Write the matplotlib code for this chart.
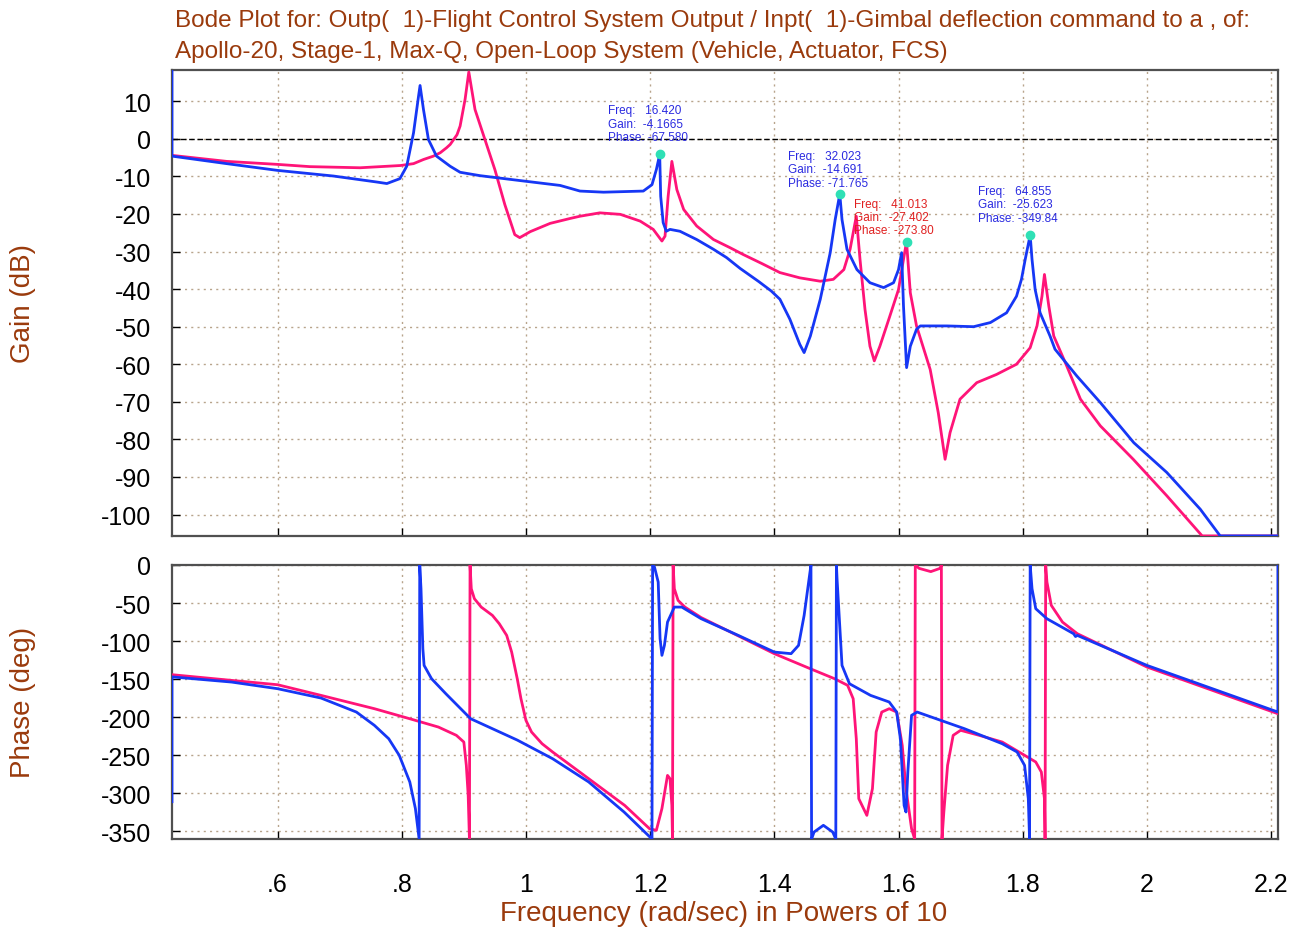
import matplotlib
matplotlib.use("Agg")
import matplotlib.pyplot as plt
import numpy as np

plt.rcParams['font.family'] = ['Liberation Sans', 'DejaVu Sans']

# ---------------- data (log10 frequency, value) ----------------
blue_gain_x = [0.43, 0.43, 0.518, 0.60, 0.69, 0.76, 0.776, 0.797, 0.808, 0.819, 0.827, 0.8295, 0.835,
               0.843, 0.856, 0.878, 0.894, 0.926, 0.99, 1.055, 1.087, 1.125, 1.189, 1.203, 1.21,
               1.2154, 1.217, 1.221, 1.226, 1.232, 1.248, 1.275, 1.302, 1.323, 1.345, 1.375, 1.395,
               1.409, 1.425, 1.441, 1.448, 1.458, 1.474, 1.49, 1.498, 1.5054, 1.509, 1.517, 1.533,
               1.554, 1.576, 1.592, 1.60, 1.605, 1.608, 1.613, 1.619, 1.629, 1.635, 1.678, 1.721,
               1.748, 1.774, 1.79, 1.798, 1.804, 1.812, 1.815, 1.82, 1.828, 1.844, 1.852, 1.887,
               1.925, 1.979, 2.032, 2.086, 2.118, 2.211]
blue_gain_y = [18.4, -4.6, -6.6, -8.4, -9.9, -11.5, -11.9, -10.6, -7.3, 1.6, 11.3, 14.2, 7.8,
               -0.2, -4.6, -7.3, -8.9, -9.8, -11.1, -12.4, -13.9, -14.2, -13.9, -12.2, -8.2,
               -4.1665, -15.3, -22.3, -24.6, -24.1, -24.6, -26.8, -29.4, -31.6, -34.5, -38.0, -40.5,
               -42.7, -48.0, -54.7, -56.9, -52.5, -42.7, -30.3, -21.5, -14.691, -21.5, -29.4, -34.8,
               -38.3, -39.6, -38.3, -34.8, -30.3, -44.5, -60.9, -55.2, -50.7, -49.8, -49.8, -50.0,
               -48.9, -46.3, -41.9, -37.4, -32.1, -25.623, -32.1, -40.1, -46.3, -52.5, -56.0, -63.1,
               -70.2, -80.9, -88.8, -98.6, -105.7, -105.7]

red_gain_x = [0.43, 0.518, 0.60, 0.652, 0.733, 0.798, 0.819, 0.835, 0.851, 0.862, 0.872, 0.878, 0.889,
              0.894, 0.902, 0.908, 0.918, 0.934, 0.95, 0.966, 0.982, 0.99, 1.007, 1.039, 1.071,
              1.087, 1.119, 1.152, 1.184, 1.205, 1.219, 1.224, 1.229, 1.235, 1.243, 1.254, 1.275,
              1.302, 1.329, 1.35, 1.38, 1.409, 1.441, 1.474, 1.495, 1.512, 1.522, 1.532, 1.538,
              1.546, 1.554, 1.561, 1.57, 1.586, 1.60, 1.608, 1.6129, 1.619, 1.629, 1.651, 1.664,
              1.675, 1.683, 1.699, 1.726, 1.758, 1.79, 1.812, 1.823, 1.831, 1.835, 1.842, 1.85,
              1.871, 1.893, 1.925, 1.978, 2.032, 2.089, 2.211]
red_gain_y = [-4.4, -6.0, -6.8, -7.4, -7.7, -7.1, -6.6, -5.5, -4.6, -3.7, -2.4, -1.5, 1.1,
              3.4, 10.5, 17.8, 7.8, -0.2, -8.2, -17.5, -25.5, -26.3, -24.7, -22.5, -21.2,
              -20.6, -19.7, -20.1, -21.9, -24.1, -27.2, -25.9, -15.3, -6.0, -13.5, -18.8, -23.2,
              -26.8, -29.0, -30.8, -33.2, -35.6, -37.0, -37.9, -37.4, -34.8, -29.4, -20.6, -32.1,
              -45.4, -55.2, -59.1, -55.2, -47.2, -40.1, -32.1, -27.402, -41.0, -49.8, -61.4, -72.9,
              -85.3, -78.2, -69.3, -64.9, -62.7, -60.0, -55.6, -49.8, -41.9, -36.1, -44.5, -52.5,
              -60.5, -69.3, -76.4, -85.3, -95.0, -105.7, -105.7]

blue_phase_x = [0.43, 0.43, 0.526, 0.60, 0.670, 0.727, 0.756, 0.779, 0.796, 0.813, 0.822, 0.828,
                0.829, 0.831, 0.834, 0.836, 0.848, 0.871, 0.911, 0.986, 1.043, 1.101, 1.158, 1.203,
                1.204, 1.207, 1.213, 1.216, 1.219, 1.223, 1.228, 1.239, 1.251, 1.282, 1.342, 1.40,
                1.427, 1.439, 1.448, 1.456, 1.459, 1.460, 1.464, 1.479, 1.494, 1.499, 1.500, 1.501,
                1.505, 1.509, 1.521, 1.555, 1.585, 1.597, 1.603, 1.609, 1.612, 1.615, 1.621, 1.63,
                1.645, 1.706, 1.767, 1.791, 1.803, 1.809, 1.811, 1.812, 1.815, 1.821, 1.839, 1.882,
                1.885, 1.888, 2.0, 2.211, 2.211]
blue_phase_y = [-311, -147, -153.8, -162.5, -174.8, -193.2, -210.7, -228.2, -250.1, -285.1, -320, -360,
                0, -31.2, -110, -131.9, -149.4, -169.1, -202, -230, -254.5, -285, -324.5, -360,
                0, -2.7, -22.4, -96.8, -118.7, -105.6, -75, -55.3, -55.3, -70.5, -92.5, -114.4,
                -116.5, -105.6, -66.2, -18, 0, -360, -350.8, -342, -350.8, -360, 0, -18,
                -75, -131.9, -156, -171.3, -180, -193.2, -228.2, -315.8, -324.5, -272, -197.5, -193.2,
                -197.5, -215, -234.8, -245.7, -263.2, -307, -360, 0, -31.2, -57.4, -70.6, -90.3,
                -94, -92.5, -131.9, -193.2, 0]

red_phase_x = [0.43, 0.526, 0.60, 0.670, 0.756, 0.813, 0.859, 0.888, 0.900, 0.904, 0.907, 0.909,
               0.910, 0.912, 0.917, 0.928, 0.946, 0.957, 0.969, 0.977, 0.986, 0.992, 1.0, 1.009,
               1.026, 1.043, 1.101, 1.159, 1.199, 1.21, 1.219, 1.228, 1.232, 1.235, 1.236, 1.237,
               1.239, 1.245, 1.256, 1.282, 1.40, 1.458, 1.497, 1.518, 1.527, 1.532, 1.536, 1.549,
               1.558, 1.564, 1.573, 1.585, 1.597, 1.606, 1.612, 1.621, 1.626, 1.627, 1.633, 1.652,
               1.667, 1.669, 1.670, 1.673, 1.679, 1.688, 1.70, 1.73, 1.767, 1.803, 1.821, 1.83,
               1.835, 1.836, 1.837, 1.839, 1.846, 1.864, 1.888, 2.0, 2.211]
red_phase_y = [-144.1, -151.6, -157.3, -171.3, -188.8, -202, -212.9, -223.8, -232.6, -263.2, -302.6, -360,
               0, -31.2, -44.3, -55.3, -66.2, -77.1, -92.5, -114.4, -149.4, -175.7, -204.1, -219.4,
               -234.8, -245.7, -280.7, -315.8, -346.4, -348.6, -320, -276.4, -280.7, -315.8, -360, 0,
               -31.2, -46.5, -55.3, -69, -116.5, -136.3, -149.4, -158.1, -175.7, -228.2, -307, -328.9,
               -293.9, -219.4, -193.2, -188.8, -193.2, -237, -293.9, -346.4, -360, 0, -4.4, -8.7,
               -4.4, 0, -360, -324.5, -263.2, -223.8, -217.2, -223.8, -232.6, -250, -258.8, -272,
               -307, -360, 0, -22.4, -53, -75, -90.3, -134, -195.4]

# peak readouts
peak_freq = [16.420, 32.023, 41.013, 64.855]
peak_gain = [-4.1665, -14.691, -27.402, -25.623]
peak_phase = ["-67.580", "-71.765", "-273.80", "-349.84"]
peak_freq_txt = ["16.420", "32.023", "41.013", "64.855"]
peak_gain_txt = ["-4.1665", "-14.691", "-27.402", "-25.623"]
peak_series = ["blue", "blue", "red", "blue"]

gain_ticks = [10, 0, -10, -20, -30, -40, -50, -60, -70, -80, -90, -100]
phase_ticks = [0, -50, -100, -150, -200, -250, -300, -350]
x_ticks = [0.6, 0.8, 1.0, 1.2, 1.4, 1.6, 1.8, 2.0, 2.2]
x_tick_labels = [".6", ".8", "1", "1.2", "1.4", "1.6", "1.8", "2", "2.2"]

# ---------------- style ----------------
BLUE = "#1637f5"
RED = "#ff1478"
BROWN = "#9a3a0c"
GRID = "#b8a48c"
DOT = "#2fe0b5"

fig = plt.figure(figsize=(12.97, 9.28), dpi=100)
ax1 = fig.add_axes([0.1326, 0.421, 0.8527, 0.5028])
ax2 = fig.add_axes([0.1326, 0.0948, 0.8527, 0.2953])

XLIM = (0.43, 2.211)

for ax in (ax1, ax2):
    ax.set_xlim(*XLIM)
    ax.set_xticks(x_ticks)
    ax.grid(True, color=GRID, linestyle=(0, (1.5, 3)), linewidth=1.0)
    ax.tick_params(direction='in', length=6, width=1, labelsize=18, color='black')
    ax.tick_params(axis='y', pad=15)
    for s in ax.spines.values():
        s.set_color('#505050')
        s.set_linewidth(1.6)
    ax.set_axisbelow(True)

ax1.set_ylim(-105.8, 18.4)
ax1.set_yticks(gain_ticks)
ax1.set_yticklabels([str(t) for t in gain_ticks])
ax1.tick_params(axis='x', labelbottom=False)
ax1.axhline(0, color='black', linestyle=(0, (4, 2)), linewidth=1.0, zorder=1)

ax2.set_ylim(-360, 0)
ax2.set_yticks(phase_ticks)
ax2.set_yticklabels([str(t) for t in phase_ticks])
ax2.set_xticklabels(x_tick_labels)
ax2.tick_params(axis='x', pad=24)

lw = 2.0
ax1.plot(red_gain_x, red_gain_y, color=RED, lw=lw, zorder=3)
ax1.plot(blue_gain_x, blue_gain_y, color=BLUE, lw=lw, zorder=4)
ax2.plot(red_phase_x, red_phase_y, color=RED, lw=lw, zorder=3)
ax2.plot(blue_phase_x, blue_phase_y, color=BLUE, lw=lw, zorder=4)

# peak markers and readouts
offsets = [(-52, 50), (-52, 44), (-53, 44), (-52, 50)]
for f, g, ftxt, gtxt, ptxt, ser, off in zip(peak_freq, peak_gain, peak_freq_txt, peak_gain_txt,
                                             peak_phase, peak_series, offsets):
    lx = np.log10(f)
    ax1.plot([lx], [g], 'o', color=DOT, ms=6, zorder=6)
    col = "#2a2ae0" if ser == "blue" else "#e02020"
    txt = f"Freq:   {ftxt}\nGain:  {gtxt}\nPhase: {ptxt}"
    ax1.annotate(txt, xy=(lx, g), xytext=off, textcoords='offset pixels',
                 fontsize=8.5, color=col, va='top', ha='left', linespacing=1.15, zorder=7)

fig.text(0.135, 0.977, "Bode Plot for: Outp(  1)-Flight Control System Output / Inpt(  1)-Gimbal deflection command to a , of:",
         fontsize=17.5, color=BROWN, ha='left', va='center')
fig.text(0.135, 0.944, "Apollo-20, Stage-1, Max-Q, Open-Loop System (Vehicle, Actuator, FCS)",
         fontsize=17.5, color=BROWN, ha='left', va='center')

fig.text(0.018, 0.673, "Gain (dB)", rotation=90, fontsize=20, color=BROWN, ha='center', va='center')
fig.text(0.018, 0.243, "Phase (deg)", rotation=90, fontsize=20, color=BROWN, ha='center', va='center')
fig.text(0.558, 0.015, "Frequency (rad/sec) in Powers of 10", fontsize=20, color=BROWN,
         ha='center', va='center')

fig.savefig("out.png", dpi=100)
